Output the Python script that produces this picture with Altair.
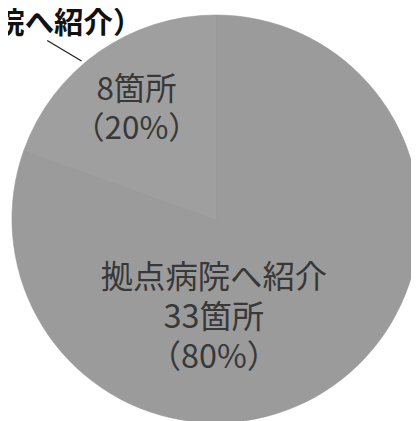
import altair as alt
import pandas as pd

categories = ["拠点病院へ紹介", "その他（他院へ紹介）"]
counts = [33, 8]
percents = [80, 20]
order = [0, 1]

df = pd.DataFrame({
    "category": categories,
    "count": counts,
    "pct": percents,
    "ord": order,
})
df["inner"] = [
    f"拠点病院へ紹介\n{counts[0]}箇所\n（{percents[0]}%）",
    f"{counts[1]}箇所\n（{percents[1]}%）",
]

FONT = "Noto Sans CJK JP"

base = alt.Chart(df)

pie = base.mark_arc(outerRadius=208, stroke="#969696", strokeWidth=0.5).encode(
    theta=alt.Theta("count:Q", stack=True),
    order=alt.Order("ord:Q"),
    color=alt.Color("category:N", scale=alt.Scale(domain=categories, range=["#9b9b9b", "#9f9f9f"]), legend=None),
    x=alt.value(212),
    y=alt.value(211),
)

lbl_big = base.transform_filter(alt.datum.ord == 0).mark_text(
    font=FONT, fontSize=33, color="#383838", align="center", baseline="middle",
    lineBreak="\n", lineHeight=41,
).encode(text="inner:N", x=alt.value(210), y=alt.value(271))

lbl_small = base.transform_filter(alt.datum.ord == 1).mark_text(
    font=FONT, fontSize=32, color="#383838", align="center", baseline="middle",
    lineBreak="\n", lineHeight=40,
).encode(text="inner:N", x=alt.value(131), y=alt.value(80))

outer = base.transform_filter(alt.datum.ord == 1).mark_text(
    font=FONT, fontSize=30, fontWeight="bold", color="#111111", align="right", baseline="top",
).encode(text="category:N", x=alt.value(137), y=alt.value(-3))

leader = base.transform_filter(alt.datum.ord == 1).mark_rule(color="#222222", strokeWidth=1.3).encode(
    x=alt.value(40), y=alt.value(29), x2=alt.value(75), y2=alt.value(50)
)

chart = alt.layer(pie, leader, lbl_big, lbl_small, outer).properties(
    width=411, height=413, autosize="none", padding=0
).configure_view(strokeWidth=0)

chart.save("out.html", embed_options={"renderer": "svg", "actions": False})
